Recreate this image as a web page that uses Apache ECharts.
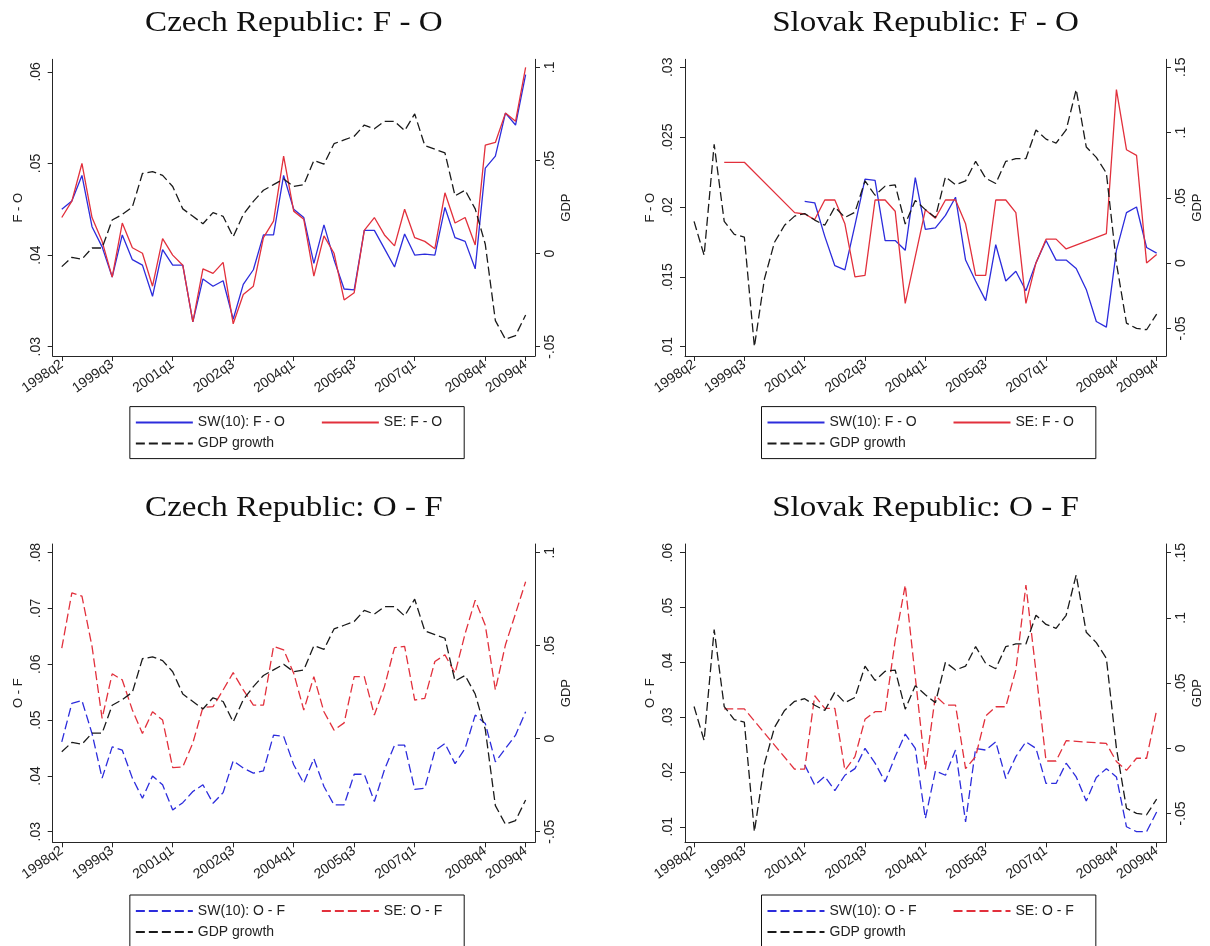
<!DOCTYPE html>
<html>
<head>
<meta charset="utf-8">
<title>Forecast errors and GDP growth</title>
<script src="https://cdn.jsdelivr.net/npm/echarts@6/dist/echarts.min.js"></script>
<style>
  html, body { margin: 0; padding: 0; background: #ffffff; }
  #chart { width: 1210px; height: 946px; }
</style>
</head>
<body>
<div id="chart"></div>
<script>
// Quarterly sample, 1998q2 .. 2009q4
const quarters = [
  '1998q2','1998q3','1998q4','1999q1','1999q2','1999q3','1999q4','2000q1','2000q2','2000q3',
  '2000q4','2001q1','2001q2','2001q3','2001q4','2002q1','2002q2','2002q3','2002q4','2003q1',
  '2003q2','2003q3','2003q4','2004q1','2004q2','2004q3','2004q4','2005q1','2005q2','2005q3',
  '2005q4','2006q1','2006q2','2006q3','2006q4','2007q1','2007q2','2007q3','2007q4','2008q1',
  '2008q2','2008q3','2008q4','2009q1','2009q2','2009q3','2009q4'
];
// Quarters that carry a tick label on the time axis
const tickQuarters = ['1998q2','1999q3','2001q1','2002q3','2004q1','2005q3','2007q1','2008q4','2009q4'];

// GDP growth
const czGdp = [-.007,-.002,-.003,.003,.003,.018,.021,.025,.043,.044,.042,.036,.024,.020,.016,.022,.020,.009,.021,.028,
  .034,.037,.040,.036,.037,.050,.048,.059,.061,.063,.069,.067,.071,.071,.066,.075,.058,.056,.054,.031,
  .034,.024,.005,-.036,-.046,-.044,-.033];
const skGdp = [.032,.006,.091,.032,.022,.020,-.064,-.012,.016,.029,.036,.038,.033,.029,.043,.035,.039,.063,.052,.059,
  .060,.030,.048,.041,.035,.066,.060,.063,.078,.065,.061,.078,.080,.080,.102,.095,.092,.102,.133,.089,
  .081,.069,.000,-.046,-.050,-.051,-.039];

// Czech Republic, F - O
const czSwFO = [.0450,.0459,.0487,.0431,.0409,.0376,.0422,.0395,.0389,.0355,.0406,.0389,.0389,.0327,.0374,.0366,.0372,.0330,.0368,.0384,
  .0422,.0422,.0487,.0450,.0441,.0391,.0433,.0395,.0363,.0362,.0427,.0427,.0407,.0387,.0423,.0400,.0401,.0400,.0452,.0419,
  .0415,.0385,.0495,.0508,.0555,.0542,.0597];
const czSeFO = [.0441,.0459,.0500,.0441,.0415,.0376,.0435,.0408,.0402,.0366,.0418,.0400,.0389,.0327,.0385,.0380,.0392,.0325,.0357,.0366,
  .0419,.0437,.0508,.0448,.0439,.0377,.0421,.0402,.0351,.0359,.0427,.0441,.0422,.0410,.0450,.0419,.0415,.0407,.0468,.0435,
  .0441,.0411,.0520,.0523,.0555,.0546,.0605];

// Slovak Republic, F - O
const skSwFO = [null,null,null,null,null,null,null,null,null,null,null,.0204,.0203,.0179,.0158,.0155,.0187,.0220,.0219,.0176,
  .0176,.0169,.0221,.0184,.0185,.0194,.0207,.0162,.0147,.0133,.0173,.0147,.0154,.0140,.0160,.0176,.0162,.0162,.0156,.0141,
  .0118,.0114,.0169,.0196,.0200,.0171,.0167];
const skSeFO = [null,null,null,.0232,.0232,.0232,null,null,null,null,.0196,.0195,.0191,.0205,.0205,.0188,.0150,.0151,.0205,.0205,
  .0197,.0131,null,.0198,.0192,.0205,.0205,.0188,.0151,.0151,.0205,.0205,.0196,.0131,.0160,.0177,.0177,.0170,null,null,
  null,.0181,.0284,.0241,.0237,.0160,.0166];

// Czech Republic, O - F
const czSwOF = [.0461,.0530,.0535,.0476,.0396,.0452,.0446,.0396,.0360,.0400,.0384,.0339,.0352,.0372,.0384,.0351,.0370,.0427,.0414,.0405,
  .0409,.0473,.0471,.0420,.0387,.0431,.0381,.0348,.0348,.0403,.0403,.0354,.0411,.0455,.0455,.0376,.0378,.0445,.0458,.0422,
  .0449,.0509,.0494,.0425,.0449,.0473,.0515];
const czSeOF = [.0629,.0728,.0722,.0632,.0503,.0583,.0572,.0518,.0476,.0515,.0500,.0415,.0416,.0459,.0523,.0524,.0554,.0585,.0554,.0527,
  .0527,.0632,.0626,.0584,.0518,.0578,.0515,.0482,.0495,.0578,.0578,.0509,.0560,.0630,.0632,.0536,.0539,.0605,.0617,.0584,
  .0655,.0715,.0670,.0554,.0635,.0691,.0748];

// Slovak Republic, O - F
const skSwOF = [null,null,null,null,null,null,null,null,null,null,null,.0213,.0176,.0192,.0166,.0194,.0206,.0243,.0216,.0182,
  .0228,.0269,.0243,.0115,.0202,.0194,.0240,.0109,.0243,.0240,.0255,.0188,.0228,.0255,.0243,.0179,.0179,.0216,.0191,.0147,
  .0190,.0206,.0191,.0100,.0091,.0091,.0127];
const skSeOF = [null,null,null,.0315,.0315,.0315,null,null,null,null,.0205,.0205,.0339,.0316,.0316,.0203,.0228,.0296,.0310,.0310,
  .0440,.0541,null,.0205,.0339,.0322,.0322,.0206,.0228,.0302,.0319,.0319,.0386,.0541,.0383,.0220,.0220,.0257,null,null,
  null,.0252,.0219,.0203,.0225,.0225,.0313];

// Axis tick values
const czFOTicks = [.03, .04, .05, .06];
const skFOTicks = [.01, .015, .02, .025, .03];
const czOFTicks = [.03, .04, .05, .06, .07, .08];
const skOFTicks = [.01, .02, .03, .04, .05, .06];
const czGdpTicks = [-.05, 0, .05, .1];
const skGdpTicks = [-.05, 0, .05, .1, .15];

const BLUE = '#2c2cdc';
const RED = '#e2303c';
const BLACK = '#1a1a1a';
const AXIS = '#262626';
const TXT = '#222222';
const SANS = "'Liberation Sans', Arial, sans-serif";
const SERIF = "'Liberation Serif', 'Times New Roman', serif";
const DASH = [9, 4];

const panels = [
  { title: 'Czech Republic: F - O', yName: 'F - O', sw: czSwFO, se: czSeFO, gdp: czGdp,
    swName: 'SW(10): F - O', seName: 'SE: F - O', dashed: false,
    leftTicks: czFOTicks, rightTicks: czGdpTicks,
    box: { left: 52.7, top: 59.3, width: 482.3, height: 296.7, padTop: 8, padBottom: 9.3 }, legendTop: 406.6 },
  { title: 'Slovak Republic: F - O', yName: 'F - O', sw: skSwFO, se: skSeFO, gdp: skGdp,
    swName: 'SW(10): F - O', seName: 'SE: F - O', dashed: false,
    leftTicks: skFOTicks, rightTicks: skGdpTicks,
    box: { left: 685, top: 59.3, width: 481, height: 296.7, padTop: 8, padBottom: 9.3 }, legendTop: 406.6 },
  { title: 'Czech Republic: O - F', yName: 'O - F', sw: czSwOF, se: czSeOF, gdp: czGdp,
    swName: 'SW(10): O - F', seName: 'SE: O - F', dashed: true,
    leftTicks: czOFTicks, rightTicks: czGdpTicks,
    box: { left: 52.7, top: 544, width: 482.3, height: 298.3, padTop: 8.7, padBottom: 10.6 }, legendTop: 895 },
  { title: 'Slovak Republic: O - F', yName: 'O - F', sw: skSwOF, se: skSeOF, gdp: skGdp,
    swName: 'SW(10): O - F', seName: 'SE: O - F', dashed: true,
    leftTicks: skOFTicks, rightTicks: skGdpTicks,
    box: { left: 685, top: 544, width: 481, height: 298.3, padTop: 8.7, padBottom: 10.6 }, legendTop: 895 }
];

// Tick label style: no leading zero (".05", "-.05")
function fmt(v) {
  if (Math.abs(v) < 1e-9) return '0';
  return String(+v.toFixed(4)).replace('0.', '.');
}

// Axis range spans data and ticks, with a small fixed margin in pixels
function axisRange(values, ticks, box) {
  const all = values.filter(v => v != null).concat(ticks);
  const lo = Math.min(...all), hi = Math.max(...all);
  const inner = box.height - box.padTop - box.padBottom;
  const perPx = (hi - lo) / inner;
  return { min: lo - box.padBottom * perPx, max: hi + box.padTop * perPx };
}

const tickIdx = tickQuarters.map(q => quarters.indexOf(q));
const pairs = arr => arr.map((v, i) => [i, v]);

const grid = [], xAxis = [], yAxis = [], series = [], legend = [], graphic = [];

panels.forEach((p, k) => {
  const b = p.box;
  grid.push({ left: b.left, top: b.top, width: b.width, height: b.height, containLabel: false });

  xAxis.push({
    type: 'value', gridIndex: k, min: -0.9, max: quarters.length - 1 + 0.93,
    axisLine: { show: true, onZero: false, lineStyle: { color: AXIS, width: 1 } },
    axisTick: { show: true, length: 5, customValues: tickIdx, lineStyle: { color: AXIS } },
    axisLabel: { customValues: tickIdx, formatter: v => quarters[Math.round(v)], rotate: 35, margin: 7,
                 fontSize: 14, color: TXT, fontFamily: SANS },
    splitLine: { show: false }
  });

  const lr = axisRange(p.sw.concat(p.se), p.leftTicks, b);
  const rr = axisRange(p.gdp, p.rightTicks, b);
  const yCommon = {
    type: 'value', gridIndex: k,
    axisLine: { show: true, onZero: false, lineStyle: { color: AXIS, width: 1 } },
    splitLine: { show: false },
    nameLocation: 'middle', nameRotate: 90,
    nameTextStyle: { fontSize: 13, color: TXT, fontFamily: SANS }
  };
  yAxis.push(Object.assign({}, yCommon, {
    position: 'left', min: lr.min, max: lr.max, name: p.yName, nameGap: 28,
    axisTick: { show: true, length: 5, customValues: p.leftTicks, lineStyle: { color: AXIS } },
    axisLabel: { customValues: p.leftTicks, formatter: fmt, rotate: 90, margin: 10,
                 fontSize: 14, color: TXT, fontFamily: SANS }
  }));
  yAxis.push(Object.assign({}, yCommon, {
    position: 'right', min: rr.min, max: rr.max, name: 'GDP', nameGap: 25,
    axisTick: { show: true, length: 5, customValues: p.rightTicks, lineStyle: { color: AXIS } },
    axisLabel: { customValues: p.rightTicks, formatter: fmt, rotate: 90, margin: 8,
                 fontSize: 14, color: TXT, fontFamily: SANS }
  }));

  const style = (c, dashed) => ({ color: c, width: 1.3, type: dashed ? DASH : 'solid' });
  const base = { type: 'line', xAxisIndex: k, showSymbol: false, symbol: 'none',
                 connectNulls: true, silent: true, animation: false };
  series.push(Object.assign({}, base, { name: p.swName, yAxisIndex: 2 * k, data: pairs(p.sw),
    lineStyle: style(BLUE, p.dashed), itemStyle: { color: BLUE } }));
  series.push(Object.assign({}, base, { name: p.seName, yAxisIndex: 2 * k, data: pairs(p.se),
    lineStyle: style(RED, p.dashed), itemStyle: { color: RED } }));
  series.push(Object.assign({}, base, { name: 'GDP growth', yAxisIndex: 2 * k + 1, data: pairs(p.gdp),
    lineStyle: style(BLACK, true), itemStyle: { color: BLACK } }));

  const cx = b.left + b.width / 2;
  legend.push({
    left: cx - 164, top: p.legendTop, orient: 'horizontal', width: 330,
    itemWidth: 57, itemHeight: 12, itemGap: 5, padding: [8, 22, 7, 5],
    borderColor: '#111', borderWidth: 1, selectedMode: false,
    // line samples only, no marker in the middle
    itemStyle: { color: 'rgba(0,0,0,0)', borderColor: 'rgba(0,0,0,0)', borderWidth: 0, opacity: 0 },
    textStyle: { fontSize: 14, color: TXT, fontFamily: SANS, lineHeight: 16 },
    data: [{ name: p.swName, textStyle: { width: 118 } }, p.seName, 'GDP growth']
  });

  graphic.push({
    type: 'text', x: cx, y: b.top - 35.5, scaleX: 1.14, silent: true,
    style: { text: p.title, align: 'center', verticalAlign: 'middle',
             font: '29px ' + SERIF, fill: '#111' }
  });
});

const chart = echarts.init(document.getElementById('chart'), null, { renderer: 'canvas' });
chart.setOption({
  animation: false,
  backgroundColor: '#ffffff',
  grid, xAxis, yAxis, series, legend, graphic
});
</script>
</body>
</html>
